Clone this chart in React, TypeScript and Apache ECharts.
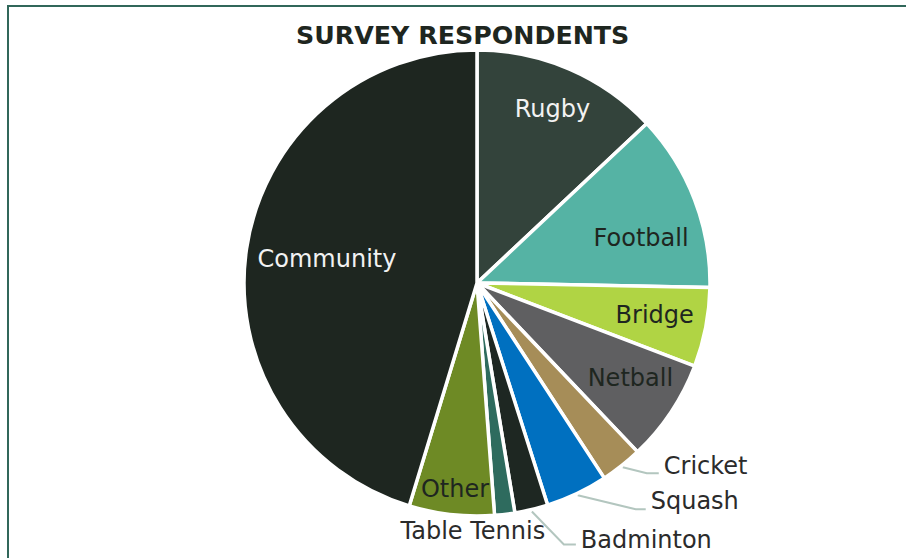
import React, { useEffect, useRef } from "react";
import * as echarts from "echarts";

// ---- data ----
const categories = [
  "Rugby",
  "Football",
  "Bridge",
  "Netball",
  "Cricket",
  "Squash",
  "Badminton",
  "Table Tennis",
  "Other",
  "Community",
];
const respondents = [13.0, 12.3, 5.5, 7.1, 2.9, 4.3, 2.3, 1.4, 5.9, 45.3];

// ---- styles ----
const sliceColors = [
  "#33433b",
  "#55b3a4",
  "#b0d444",
  "#5f5f61",
  "#a68d58",
  "#0070c0",
  "#1e2722",
  "#2e6b5e",
  "#6e8a25",
  "#1e2620",
];
const CX = 477;
const CY = 283;
const R = 233;
const FONT = "DejaVu Sans";

// label placement: inside labels -> radius factor k and angle tweak da;
// outside labels -> leader elbow/end and text offsets from the slice edge
type Place =
  | { k: number; da: number; color: string }
  | { out: number[]; color: string };
const labelPlacement: Record<string, Place> = {
  Rugby: { k: 0.815, da: 0, color: "#f2f2f2" },
  Football: { k: 0.73, da: 5.8, color: "#1e2620" },
  Bridge: { k: 0.775, da: -0.7, color: "#1e2620" },
  Netball: { k: 0.775, da: -1.8, color: "#1e2620" },
  Cricket: { out: [24, 6, 36, 6, 41, -1], color: "#2b2b2b" },
  Squash: { out: [58, 14, 68, 14, 73, 6], color: "#2b2b2b" },
  Badminton: { out: [32, 33, 44, 33, 49, 28], color: "#2b2b2b" },
  "Table Tennis": { k: 1.065, da: 7.8, color: "#2b2b2b" },
  Other: { k: 0.89, da: -0.2, color: "#1e2620" },
  Community: { k: 0.652, da: 0.6, color: "#f2f2f2" },
};

export default function App() {
  const ref = useRef<HTMLDivElement>(null);

  useEffect(() => {
    if (!ref.current) return;
    const chart = echarts.init(ref.current, undefined, { renderer: "svg" });
    const total = respondents.reduce((a, b) => a + b, 0);

    const data = categories.map((name, i) => {
      const pl = labelPlacement[name];
      const isOut = "out" in pl;
      return {
        name,
        value: respondents[i],
        itemStyle: { color: sliceColors[i] },
        label: {
          position: isOut ? "outside" : "inside",
          color: pl.color,
        },
        labelLine: { show: isOut },
      };
    });

    chart.setOption({
      animation: false,
      title: {
        text: "SURVEY RESPONDENTS",
        left: 296,
        top: 23,
        padding: 0,
        textStyle: {
          fontFamily: FONT,
          fontWeight: "bold",
          fontSize: 25.3,
          color: "#1e2620",
        },
      },
      series: [
        {
          type: "pie",
          center: [CX, CY],
          radius: R,
          startAngle: 90,
          clockwise: true,
          avoidLabelOverlap: false,
          itemStyle: { borderColor: "#ffffff", borderWidth: 3.5 },
          label: {
            show: true,
            formatter: "{b}",
            fontFamily: FONT,
            fontSize: 24,
          },
          labelLine: {
            show: true,
            lineStyle: { color: "#b3c6bf", width: 2 },
          },
          emphasis: { disabled: true },
          data,
          labelLayout: (p: any) => {
            const i = p.dataIndex;
            let before = 0;
            for (let j = 0; j < i; j++) before += respondents[j];
            const mid = ((before + respondents[i] / 2) / total) * 360;
            const pl = labelPlacement[categories[i]];
            if ("out" in pl) {
              const a = (mid * Math.PI) / 180;
              const ex = CX + (R + 2) * Math.sin(a);
              const ey = CY - (R + 2) * Math.cos(a);
              const o = pl.out;
              return {
                x: ex + o[4],
                y: ey + o[5],
                align: "left",
                verticalAlign: "middle",
                labelLinePoints: [
                  [ex, ey],
                  [ex + o[0], ey + o[1]],
                  [ex + o[2], ey + o[3]],
                ],
              };
            }
            const a = ((mid + pl.da) * Math.PI) / 180;
            return {
              x: CX + pl.k * R * Math.sin(a),
              y: CY - pl.k * R * Math.cos(a),
              align: "center",
              verticalAlign: "middle",
            };
          },
        },
      ],
    });

    return () => chart.dispose();
  }, []);

  return (
    <div>
      <div
        style={{
          position: "fixed",
          left: 7,
          top: 5,
          width: 1200,
          height: 1200,
          border: "2px solid #31675a",
          boxSizing: "border-box",
          background: "#ffffff",
        }}
      />
      <div
        ref={ref}
        style={{ position: "fixed", left: 0, top: 0, width: 906, height: 558 }}
      />
    </div>
  );
}
